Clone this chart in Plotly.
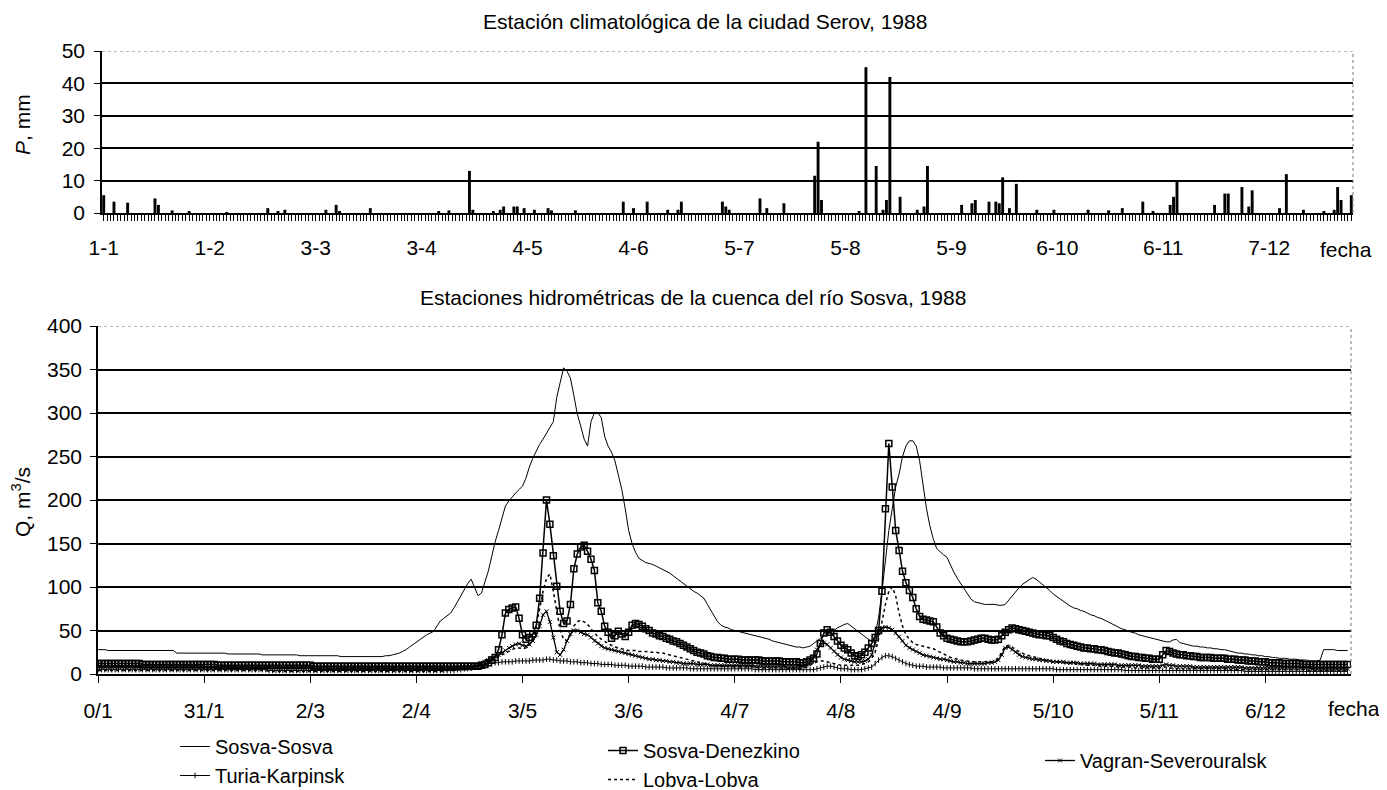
import plotly.graph_objects as go

# page body has an 8 px margin; the figure is placed at (8, 8) in the window.
# The figure is made a little taller than the visible window so that the
# legends fit inside the paper and never push the margins.
OFF = 8
W, H = 1387 - OFF, 800

# ---------------- precipitation (top panel) ----------------
rain_day = [0, 3, 7, 15, 16, 20, 25, 36, 48, 51, 53, 65, 68, 69, 78, 98, 101, 107, 108,
            114, 116, 117, 120, 121, 123, 126, 130, 131, 138, 152, 155, 159, 165, 168, 169,
            181, 182, 183, 192, 194, 199, 208, 209, 210, 221, 223, 226, 228, 229, 230, 233,
            238, 240, 241, 251, 254, 255, 259, 261, 262, 263, 265, 267, 273, 278, 288, 294,
            298, 304, 307, 312, 313, 314, 325, 328, 329, 333, 335, 336, 344, 346, 351, 357,
            360, 361, 362, 365]
rain_mm = [5.5, 3.5, 3.2, 4.5, 2.5, 0.8, 0.5, 0.3, 1.5, 0.5, 1, 1, 2.5, 0.5, 1.5, 0.5, 0.8, 13, 1,
           0.5, 1, 2, 2, 2, 1.5, 1, 1.5, 0.8, 0.8, 3.5, 1.5, 3.5, 1, 1, 3.5,
           3.5, 2, 1, 4.5, 1.5, 3, 11.5, 22, 4, 0.5, 45, 14.5, 1, 4, 42, 5,
           1, 2, 14.5, 2.5, 3, 4, 3.5, 3.5, 3, 11, 1.5, 9, 1, 1, 1, 0.8,
           1.5, 3.5, 0.5, 2.5, 5, 10, 2.5, 6, 6, 8, 2, 7, 1.5, 12, 1, 0.5,
           1, 8, 4, 5.5]
top_tick_days = [0, 31, 62, 93, 124, 155, 186, 217, 248, 279, 310, 341]
top_tick_text = ["1-1", "1-2", "3-3", "3-4", "4-5", "4-6", "5-7", "5-8", "5-9", "6-10", "6-11", "7-12"]

# ---------------- discharge (bottom panel), daily ----------------
q_days = list(range(366))
bottom_tick_days = [0, 31, 62, 93, 124, 155, 186, 217, 248, 279, 310, 341]
bottom_tick_text = ["0/1", "31/1", "2/3", "2/4", "3/5", "3/6", "4/7", "4/8", "4/9", "5/10", "5/11", "6/12"]

sosva_sosva = [
    28, 28, 28, 27, 27, 27, 27, 27, 27, 27,  27, 27, 27, 27, 27, 27, 27, 27, 27, 27,
    27, 27, 27, 24, 24, 24, 24, 24, 24, 24,  24, 24, 24, 24, 24, 24, 24, 24, 23, 23,
    23, 23, 23, 23, 23, 23, 23, 23, 22, 22,  22, 22, 22, 22, 22, 22, 22, 22, 22, 21,
    21, 21, 21, 21, 21, 21, 21, 21, 21, 21,  21, 20, 20, 20, 20, 20, 20, 20, 20, 20,
    20, 20, 20, 20, 21, 21, 22, 23, 24, 26,  28, 31, 34, 37, 40, 43, 45, 47, 49, 55,
    61, 64, 67, 70, 76, 83, 90, 97, 104, 109,  100, 90, 93, 105, 118, 135, 152, 165, 180, 193,
    199, 204, 208, 212, 216, 225, 238, 248, 257, 264,  270, 277, 284, 290, 318, 335, 352, 348, 340, 320,
    299, 285, 270, 262, 290, 300, 300, 295, 273, 262,  255, 245, 230, 212, 190, 165, 150, 140, 133, 130,
    128, 127, 126, 124, 122, 120, 118, 116, 113, 110,  107, 104, 101, 97, 95, 93, 90, 87, 80, 73,
    66, 60, 56, 54, 53, 51, 50, 49, 48, 47,  46, 45, 44, 43, 42, 41, 40, 38, 37, 36,
    35, 34, 33, 32, 31, 31, 30, 31, 32, 35,  38, 42, 44, 46, 48, 50, 53, 55, 57, 58,
    55, 52, 48, 45, 42, 39, 37, 45, 65, 95,  130, 165, 190, 215, 230, 250, 262, 268, 268, 262,
    245, 215, 190, 170, 155, 144, 140, 137, 134, 125,  117, 110, 104, 99, 92, 86, 83, 82, 81, 80,
    80, 80, 80, 79, 79, 80, 85, 90, 95, 99,  103, 106, 109, 111, 109, 106, 102, 99, 96, 92,
    89, 87, 84, 80, 78, 76, 75, 73, 72, 70,  68, 67, 65, 64, 62, 60, 58, 56, 54, 52,
    51, 49, 48, 47, 45, 44, 43, 42, 41, 40,  39, 38, 37, 37, 39, 40, 36, 35, 34, 33,
    32, 32, 31, 31, 30, 30, 29, 29, 28, 28,  27, 26, 25, 24, 24, 23, 23, 22, 22, 21,
    21, 20, 20, 19, 19, 18, 18, 18, 17, 17,  17, 16, 16, 16, 15, 15, 15, 16, 28, 28,
    28, 28, 27, 27, 27, 27]

sosva_denezkino = [
    12, 12, 12, 12, 12, 12, 12, 12, 12, 12,  12, 12, 12, 11, 11, 11, 11, 11, 11, 11,
    11, 11, 11, 11, 11, 11, 11, 11, 11, 11,  11, 11, 11, 11, 11, 10, 10, 10, 10, 10,
    10, 10, 10, 10, 10, 10, 10, 10, 10, 10,  10, 10, 10, 10, 10, 10, 10, 10, 10, 10,
    10, 10, 10, 9, 9, 9, 9, 9, 9, 9,  9, 9, 9, 9, 9, 9, 9, 9, 9, 9,
    9, 9, 9, 9, 9, 9, 9, 9, 9, 9,  9, 9, 9, 9, 9, 9, 9, 9, 9, 9,
    9, 9, 9, 9, 9, 9, 9, 9, 9, 9,  9, 9, 10, 11, 13, 16, 19, 28, 45, 70,
    74, 76, 77, 64, 45, 40, 42, 46, 56, 87,  139, 200, 172, 136, 101, 72, 58, 61, 80, 121,
    138, 146, 148, 141, 132, 119, 82, 72, 55, 48,  41, 44, 49, 46, 43, 48, 56, 58, 57, 55,
    52, 50, 47, 46, 44, 43, 41, 40, 38, 37,  35, 33, 31, 29, 27, 25, 24, 23, 21, 20,
    19, 19, 18, 18, 17, 17, 17, 17, 16, 16,  16, 16, 16, 16, 15, 15, 15, 15, 15, 15,
    14, 14, 14, 14, 14, 13, 13, 14, 16, 18,  23, 35, 47, 51, 48, 43, 38, 33, 30, 28,
    24, 21, 20, 22, 25, 30, 35, 42, 50, 95,  190, 265, 215, 165, 142, 118, 105, 96, 88, 75,
    66, 63, 62, 61, 60, 54, 47, 44, 41, 40,  39, 38, 37, 37, 37, 38, 39, 40, 41, 41,
    40, 39, 39, 40, 44, 48, 51, 53, 52, 51,  50, 49, 48, 47, 46, 45, 45, 44, 44, 42,
    40, 38, 37, 35, 34, 33, 32, 31, 30, 30,  29, 29, 28, 28, 27, 26, 25, 24, 24, 23,
    22, 21, 20, 20, 19, 19, 18, 18, 17, 17,  17, 22, 27, 26, 24, 23, 22, 22, 21, 21,
    20, 20, 19, 19, 19, 19, 18, 18, 18, 18,  17, 17, 17, 16, 16, 16, 15, 15, 15, 14,
    14, 14, 13, 13, 13, 13, 12, 12, 12, 12,  12, 12, 11, 11, 11, 11, 11, 11, 11, 11,
    11, 11, 11, 11, 11, 11]

vagran_severouralsk = [
    8, 8, 8, 8, 8, 8, 8, 8, 8, 8,  8, 8, 8, 8, 8, 8, 8, 8, 8, 8,
    8, 8, 8, 8, 8, 8, 8, 8, 8, 8,  8, 7, 7, 7, 7, 7, 7, 7, 7, 7,
    7, 7, 7, 7, 7, 7, 7, 7, 7, 7,  7, 7, 7, 7, 7, 7, 7, 7, 7, 7,
    7, 7, 7, 7, 7, 7, 7, 7, 7, 7,  6, 6, 6, 6, 6, 6, 6, 6, 6, 6,
    6, 6, 6, 6, 6, 6, 6, 6, 6, 6,  6, 6, 6, 6, 6, 6, 6, 6, 6, 6,
    6, 6, 6, 6, 6, 6, 6, 7, 7, 8,  9, 10, 12, 14, 16, 18, 20, 22, 24, 27,
    30, 32, 34, 35, 33, 32, 34, 38, 45, 55,  68, 72, 60, 42, 25, 22, 28, 38, 46, 50,
    50, 48, 46, 45, 42, 38, 35, 32, 30, 29,  28, 27, 26, 25, 24, 23, 22, 21, 20, 19,
    18, 17, 17, 16, 16, 15, 15, 14, 14, 13,  13, 12, 12, 12, 12, 11, 11, 11, 11, 10,
    10, 10, 10, 10, 10, 10, 10, 10, 10, 10,  10, 10, 9, 9, 9, 9, 9, 9, 9, 9,
    9, 8, 8, 8, 8, 8, 9, 10, 14, 20,  28, 34, 36, 34, 30, 26, 22, 19, 17, 16,
    15, 14, 14, 14, 15, 17, 22, 35, 50, 53,  54, 53, 51, 47, 43, 38, 33, 30, 28, 26,
    24, 22, 21, 20, 19, 18, 17, 17, 16, 15,  14, 14, 13, 13, 12, 12, 12, 12, 12, 12,
    13, 13, 14, 16, 22, 30, 31, 28, 25, 22,  20, 19, 18, 17, 17, 16, 16, 15, 15, 14,
    14, 14, 14, 13, 13, 13, 13, 12, 12, 12,  12, 12, 11, 11, 11, 11, 11, 11, 10, 10,
    10, 10, 10, 10, 10, 9, 9, 9, 9, 9,  9, 10, 11, 10, 10, 9, 9, 9, 9, 9,
    8, 8, 8, 8, 8, 8, 8, 8, 8, 8,  8, 8, 8, 8, 8, 7, 7, 7, 7, 7,
    7, 7, 7, 7, 7, 7, 7, 7, 7, 7,  7, 7, 7, 7, 7, 6, 6, 6, 6, 6,
    6, 6, 6, 6, 6, 6]

lobva_lobva = [
    4, 4, 4, 4, 4, 4, 4, 4, 4, 4,  4, 4, 4, 4, 4, 4, 4, 4, 4, 4,
    4, 4, 4, 4, 4, 4, 4, 4, 4, 4,  4, 4, 4, 4, 4, 4, 4, 4, 4, 4,
    4, 4, 4, 4, 4, 4, 4, 4, 4, 4,  3, 3, 3, 3, 3, 3, 3, 3, 3, 3,
    3, 3, 3, 3, 3, 3, 3, 3, 3, 3,  3, 3, 3, 3, 3, 3, 3, 3, 3, 3,
    3, 3, 3, 3, 3, 3, 3, 3, 3, 3,  3, 3, 3, 3, 3, 3, 3, 3, 3, 3,
    3, 3, 4, 4, 4, 5, 5, 5, 5, 5,  6, 6, 8, 10, 12, 15, 18, 20, 22, 24,
    26, 28, 30, 30, 29, 30, 33, 40, 55, 75,  95, 110, 115, 95, 70, 50, 40, 38, 45, 55,
    60, 62, 60, 57, 52, 47, 43, 40, 37, 35,  33, 31, 30, 29, 28, 27, 27, 27, 26, 26,
    26, 25, 25, 25, 24, 24, 23, 22, 21, 20,  19, 18, 17, 16, 15, 14, 13, 12, 11, 10,
    10, 10, 9, 9, 9, 9, 8, 8, 8, 8,  8, 8, 8, 7, 7, 7, 7, 7, 7, 7,
    6, 6, 6, 6, 6, 6, 7, 8, 10, 12,  14, 15, 15, 14, 13, 12, 11, 10, 10, 10,
    10, 10, 10, 11, 12, 14, 18, 25, 40, 60,  80, 95, 100, 90, 70, 55, 45, 40, 36, 34,
    33, 32, 31, 30, 29, 27, 25, 23, 21, 19,  18, 17, 16, 15, 15, 14, 14, 14, 14, 14,
    14, 14, 15, 18, 25, 32, 33, 31, 28, 26,  24, 22, 21, 20, 19, 18, 17, 16, 15, 14,
    14, 13, 13, 12, 12, 12, 11, 11, 11, 10,  10, 10, 10, 9, 9, 9, 9, 9, 8, 8,
    8, 8, 8, 7, 7, 7, 7, 7, 7, 7,  7, 8, 8, 7, 7, 6, 6, 6, 6, 6,
    6, 6, 6, 6, 6, 6, 6, 6, 6, 6,  5, 5, 5, 5, 5, 5, 5, 5, 5, 5,
    5, 5, 5, 5, 5, 5, 5, 5, 5, 5,  5, 5, 5, 4, 4, 4, 4, 4, 4, 4,
    4, 4, 4, 4, 4, 4]

turia_karpinsk = [
    5, 5, 5, 5, 5, 5, 5, 5, 5, 5,  5, 5, 5, 5, 5, 5, 5, 5, 5, 5,
    5, 5, 5, 5, 5, 5, 5, 5, 5, 5,  5, 5, 5, 5, 5, 5, 5, 5, 5, 5,
    5, 5, 5, 5, 5, 5, 5, 5, 5, 5,  4, 4, 4, 4, 4, 4, 4, 4, 4, 4,
    4, 4, 4, 4, 4, 4, 4, 4, 4, 4,  4, 4, 4, 4, 4, 4, 4, 4, 4, 4,
    4, 4, 4, 4, 4, 4, 4, 4, 4, 4,  4, 4, 4, 4, 4, 4, 4, 4, 4, 4,
    4, 4, 4, 4, 4, 5, 5, 6, 6, 7,  8, 9, 10, 11, 12, 12, 13, 13, 14, 14,
    14, 14, 15, 15, 15, 15, 15, 16, 16, 16,  16, 17, 17, 16, 16, 15, 15, 15, 14, 14,
    14, 13, 13, 13, 12, 12, 12, 11, 11, 11,  11, 10, 10, 10, 10, 9, 9, 9, 9, 9,
    8, 8, 8, 8, 8, 8, 7, 7, 7, 7,  7, 7, 7, 6, 6, 6, 6, 6, 6, 6,
    6, 6, 6, 6, 6, 6, 6, 6, 6, 6,  6, 6, 5, 5, 5, 5, 5, 5, 5, 5,
    5, 5, 5, 5, 5, 5, 5, 5, 5, 5,  6, 7, 8, 9, 9, 8, 7, 6, 6, 6,
    5, 5, 5, 5, 6, 7, 8, 12, 16, 19,  21, 21, 20, 18, 16, 14, 12, 11, 10, 9,
    9, 9, 8, 8, 8, 8, 8, 7, 7, 7,  7, 7, 7, 7, 7, 7, 6, 6, 6, 6,
    6, 6, 6, 6, 6, 6, 6, 6, 6, 6,  6, 6, 6, 6, 6, 6, 6, 6, 6, 6,
    5, 5, 5, 5, 5, 5, 5, 5, 5, 5,  5, 5, 5, 5, 5, 5, 5, 5, 5, 5,
    4, 4, 4, 4, 4, 4, 4, 4, 4, 4,  4, 4, 4, 4, 4, 4, 4, 4, 4, 4,
    4, 4, 4, 4, 4, 4, 4, 4, 4, 4,  4, 4, 4, 4, 4, 3, 3, 3, 3, 3,
    3, 3, 3, 3, 3, 3, 3, 3, 3, 3,  3, 3, 3, 3, 3, 3, 3, 3, 3, 3,
    3, 3, 3, 3, 3, 3]

FONT = "Liberation Sans, Arial, Helvetica, sans-serif"
FS = 21
LEG_FS = 20


def px_x(p):
    """window pixel (from left) -> paper fraction"""
    return (p - OFF) / W


def px_y(p):
    """window pixel (from top) -> paper fraction"""
    return 1 - (p - OFF) / H


fig = go.Figure()

fig.add_trace(go.Bar(x=rain_day, y=rain_mm, width=0.85, xaxis="x", yaxis="y",
                     marker=dict(color="black", line=dict(width=0)), showlegend=False))

fig.add_trace(go.Scatter(x=q_days, y=sosva_sosva, name="Sosva-Sosva", mode="lines",
                         line=dict(color="black", width=1), xaxis="x2", yaxis="y2", legend="legend"))
fig.add_trace(go.Scatter(x=q_days, y=turia_karpinsk, name="Turia-Karpinsk", mode="lines+markers",
                         line=dict(color="black", width=1),
                         marker=dict(symbol="line-ns-open", size=4, color="black", line=dict(width=1, color="black")),
                         xaxis="x2", yaxis="y2", legend="legend"))
fig.add_trace(go.Scatter(x=q_days, y=sosva_denezkino, name="Sosva-Denezkino", mode="lines+markers",
                         line=dict(color="black", width=1.5),
                         marker=dict(symbol="square-open", size=6, color="black", line=dict(width=1.5, color="black")),
                         xaxis="x2", yaxis="y2", legend="legend2"))
fig.add_trace(go.Scatter(x=q_days, y=lobva_lobva, name="Lobva-Lobva", mode="lines",
                         line=dict(color="black", width=1.5, dash="dot"), xaxis="x2", yaxis="y2", legend="legend2"))
fig.add_trace(go.Scatter(x=q_days, y=vagran_severouralsk, name="Vagran-Severouralsk", mode="lines+markers",
                         line=dict(color="black", width=1.3),
                         marker=dict(symbol="x-thin-open", size=4, color="black", line=dict(width=1, color="black")),
                         xaxis="x2", yaxis="y2", legend="legend3"))

axis_common = dict(showline=True, linecolor="black", linewidth=1.5, zeroline=False, automargin=False,
                   tickcolor="black", tickfont=dict(family=FONT, size=FS, color="black"))

legend_common = dict(xanchor="left", yanchor="top", bgcolor="rgba(0,0,0,0)", borderwidth=0,
                     font=dict(family=FONT, size=LEG_FS, color="black"), tracegroupgap=0, itemwidth=30)

fig.update_layout(
    template="none",
    width=W, height=H, margin=dict(l=0, r=0, t=0, b=0, pad=0), autosize=False,
    paper_bgcolor="white", plot_bgcolor="white",
    font=dict(family=FONT, size=FS, color="black"),
    barmode="overlay",
    xaxis=dict(domain=[px_x(102), px_x(1353)], range=[-0.5, 365.5], anchor="y",
               tickmode="array", tickvals=top_tick_days, ticktext=top_tick_text,
               ticks="outside", ticklen=6, showgrid=False, ticklabelstandoff=9,
               minor=dict(tickmode="linear", tick0=0, dtick=1, ticks="outside", ticklen=6,
                          tickcolor="black", tickwidth=1, showgrid=False),
               **axis_common),
    yaxis=dict(domain=[px_y(213), px_y(51)], range=[0, 50], anchor="x",
               tickvals=[0, 10, 20, 30, 40, 50], ticks="outside", ticklen=6,
               showgrid=True, gridcolor="black", gridwidth=1.6, ticklabelstandoff=5,
               **axis_common),
    xaxis2=dict(domain=[px_x(98), px_x(1351)], range=[0, 366], anchor="y2",
                tickmode="array", tickvals=bottom_tick_days, ticktext=bottom_tick_text,
                ticks="outside", ticklen=7, showgrid=False, ticklabelstandoff=10,
                **axis_common),
    yaxis2=dict(domain=[px_y(674), px_y(326)], range=[0, 400], anchor="x2",
                tickvals=[0, 50, 100, 150, 200, 250, 300, 350, 400], ticks="outside", ticklen=6,
                showgrid=True, gridcolor="black", gridwidth=1.6, ticklabelstandoff=4,
                **axis_common),
    legend=dict(x=px_x(175), y=px_y(727), **legend_common),
    legend2=dict(x=px_x(603), y=px_y(731), **legend_common),
    legend3=dict(x=px_x(1040), y=px_y(741), **legend_common),
)

# dotted top/right frame of each plot area (covering the top gridline)
for xr, yr, ytop in (("x", "y", 50), ("x2", "y2", 400)):
    fig.add_shape(type="line", xref=f"{xr} domain", yref=yr, x0=0.002, x1=1, y0=ytop, y1=ytop,
                  line=dict(color="white", width=3), layer="above")
    fig.add_shape(type="line", xref=f"{xr} domain", yref=yr, x0=0, x1=1, y0=ytop, y1=ytop,
                  line=dict(color="#777777", width=1, dash="dot"), layer="above")
    fig.add_shape(type="line", xref=f"{xr} domain", yref=f"{yr} domain", x0=1, x1=1, y0=0, y1=1,
                  line=dict(color="#777777", width=1, dash="dot"), layer="above")

annots = [
    dict(text="Estación climatológica de la ciudad Serov, 1988", x=px_x(705), y=px_y(22)),
    dict(text="Estaciones hidrométricas de la cuenca del río Sosva, 1988", x=px_x(693), y=px_y(297)),
    dict(text="<i>P</i>, mm", x=px_x(22), y=px_y(125), textangle=-90),
    dict(text="Q, m<sup>3</sup>/s", x=px_x(21), y=px_y(502), textangle=-90),
    dict(text="fecha", x=px_x(1346), y=px_y(249)),
    dict(text="fecha", x=px_x(1354), y=px_y(708)),
]
for a in annots:
    fig.add_annotation(xref="paper", yref="paper", showarrow=False, xanchor="center", yanchor="middle",
                       font=dict(family=FONT, size=FS, color="black"), **a)

fig.write_html("out.html")
